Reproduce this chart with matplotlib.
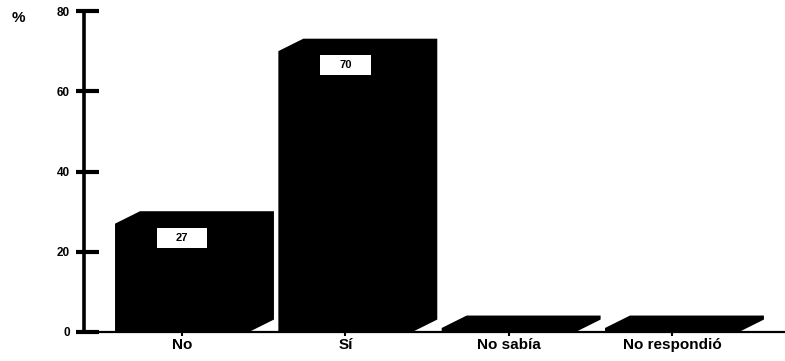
import matplotlib
matplotlib.use("Agg")
import matplotlib.pyplot as plt
from matplotlib.patches import Rectangle
from matplotlib.transforms import blended_transform_factory

categories = ["No", "Sí", "No sabía", "No respondió"]
values = [27, 70, 1, 1]
value_labels = ["27", "70", None, None]
yticks = [0, 20, 40, 60, 80]

plt.rcParams["font.family"] = ["Liberation Sans", "DejaVu Sans"]

fig = plt.figure(figsize=(7.85, 3.61), dpi=100)
ax = fig.add_axes([84 / 785, 29 / 361, 701 / 785, 321 / 361])

xmin, xmax = -0.600, 3.692
ymin, ymax = 0, 80
ax.set_xlim(xmin, xmax)
ax.set_ylim(ymin, ymax)

half = 0.41          # half width of the front face
dx, dy = 0.153, 3.1  # oblique depth of the 3-D bars
box_w, box_h = 0.312, 5.0

for i, v in enumerate(values):
    x0, x1 = i - half, i + half
    xs = [x0, x0, x0 + dx, x1 + dx, x1 + dx, x1]
    ys = [0, v, v + dy, v + dy, dy, 0]
    ax.fill(xs, ys, color="black", lw=0, zorder=3)
    if value_labels[i]:
        cy = v - 3.5
        ax.add_patch(Rectangle((i - box_w / 2, cy - box_h / 2), box_w, box_h,
                               fc="white", ec="none", zorder=4))
        ax.text(i, cy, value_labels[i], ha="center", va="center",
                fontsize=8, fontweight="bold", color="black", zorder=5)

# axes styling
for s in ["top", "right"]:
    ax.spines[s].set_visible(False)
ax.spines["left"].set_linewidth(2.6)
ax.spines["bottom"].set_linewidth(1.6)
ax.spines["left"].set_zorder(4)

ax.set_yticks(yticks)
ax.set_yticklabels([str(t) for t in yticks], fontsize=8.5, fontweight="bold")
ax.tick_params(axis="y", length=0, pad=10)

# thick y tick marks straddling the axis line
trans = blended_transform_factory(ax.transAxes, ax.transData)
ax_w_px = 701
for t in yticks:
    ax.plot([-8 / ax_w_px, 15 / ax_w_px], [t, t], color="black", lw=3,
            transform=trans, clip_on=False, zorder=6, solid_capstyle="butt")

ax.set_xticks(range(len(categories)))
ax.set_xticklabels(categories, fontsize=11, fontweight="bold")
ax.tick_params(axis="x", direction="out", length=3, width=1.5, pad=1)

fig.text(12 / 785, 1 - 18 / 361, "%", fontsize=11, fontweight="bold",
         va="center", ha="left")

fig.savefig("out.png", dpi=100)
